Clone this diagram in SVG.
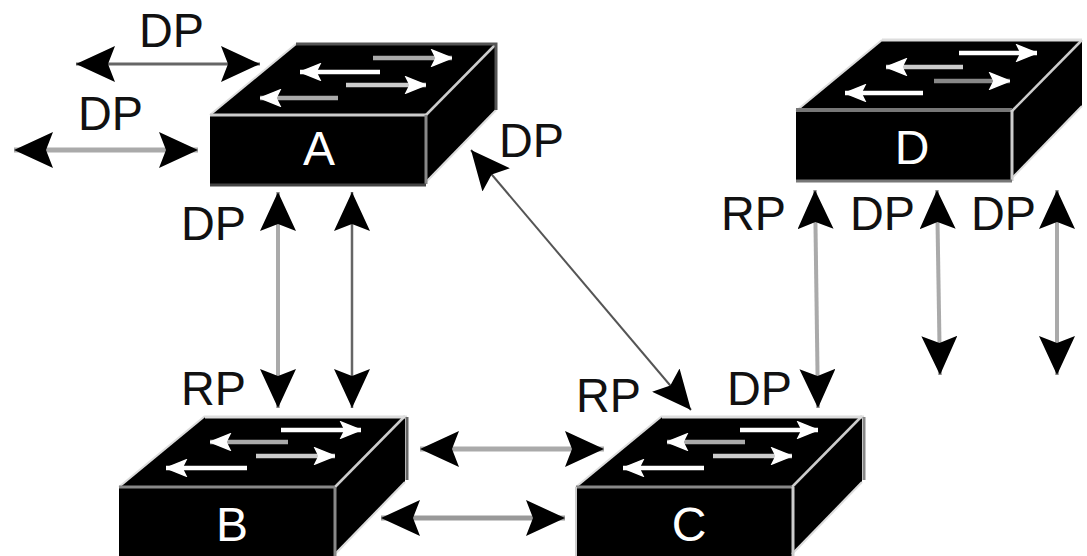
<svg xmlns="http://www.w3.org/2000/svg" width="1087" height="556" viewBox="0 0 1087 556">
<style>
text{font-family:"Liberation Sans",Arial,sans-serif;font-size:48px;fill:#111}
text.n{fill:#fff;text-anchor:middle;font-size:48px}
.c{fill:none;marker-start:url(#h);marker-end:url(#h)}
.i{fill:none;stroke-width:4.5;marker-end:url(#w)}
</style>
<defs>
<marker id="h" markerUnits="userSpaceOnUse" viewBox="0 -18 40 36" refX="40" refY="0" markerWidth="40" markerHeight="36" orient="auto-start-reverse"><path d="M40,0L1,-18L8,0L1,18Z" fill="#000"/></marker>
<marker id="w" markerUnits="userSpaceOnUse" viewBox="0 -9 24 18" refX="24" refY="0" markerWidth="24" markerHeight="18" orient="auto"><path d="M24,0L4,-8L8,0L4,8Z" fill="#fff" stroke="#fff" stroke-width="1.5"/></marker>
<g id="body">
<path d="M0,0L86,-71H286L286,-5L216,67V0Z" fill="#000"/>
<rect x="0" y="0" width="216" height="71" fill="#000"/>
<path d="M0,0L86,-71" stroke="#ddd" stroke-width="2" fill="none"/>
<path d="M216,0L286,-71" stroke="#ccc" stroke-width="2.5" fill="none"/>
<path d="M286,-5L216,67" stroke="#ddd" stroke-width="2" fill="none"/>
</g>
</defs>
<g id="connectors">
<path class="c" d="M76,64H260" stroke="#666" stroke-width="3"/>
<path class="c" d="M14,150H198" stroke="#aaa" stroke-width="5"/>
<path class="c" d="M278,192V408" stroke="#aaa" stroke-width="4"/>
<path class="c" d="M352,192V408" stroke="#666" stroke-width="2.5"/>
<path class="c" d="M471,150L691,410" stroke="#555" stroke-width="2"/>
<path class="c" d="M420,449H604" stroke="#aaa" stroke-width="5"/>
<path class="c" d="M381,518H565" stroke="#999" stroke-width="5"/>
<path class="c" d="M815,190L818,408" stroke="#aaa" stroke-width="4"/>
<path class="c" d="M937,190L940,375" stroke="#aaa" stroke-width="4"/>
<path class="c" d="M1057,190V375" stroke="#aaa" stroke-width="4"/>
</g>
<g id="node-a">
<use href="#body" x="210" y="115"/>
<path d="M296,44H496V110" fill="none" stroke="#555" stroke-width="3"/>
<path d="M210,115H426" stroke="#ccc" stroke-width="3" fill="none"/>
<path d="M426,115V184" stroke="#888" stroke-width="3" fill="none"/>
<path d="M210,185H426" stroke="#444" stroke-width="3" fill="none"/>
<path class="i" d="M373,58H452" stroke="#aaa"/>
<path class="i" d="M380,72H300" stroke="#fff"/>
<path class="i" d="M346,85H426" stroke="#ccc"/>
<path class="i" d="M338,98H260" stroke="#aaa"/>
<text class="n" x="319" y="165">A</text>
</g>
<g id="node-b">
<use href="#body" x="119" y="487"/>
<path d="M205,417H407" fill="none" stroke="#ddd" stroke-width="3"/>
<path d="M407,417V480" fill="none" stroke="#666" stroke-width="3"/>
<path d="M119,487H335" stroke="#888" stroke-width="3" fill="none"/>
<path d="M335,487V556" stroke="#888" stroke-width="3" fill="none"/>
<path class="i" d="M281,430H361" stroke="#fff"/>
<path class="i" d="M288,442H210" stroke="#aaa"/>
<path class="i" d="M256,456H335" stroke="#ccc"/>
<path class="i" d="M247,468H166" stroke="#fff"/>
<text class="n" x="232" y="541">B</text>
</g>
<g id="node-c">
<use href="#body" x="576" y="487"/>
<path d="M662,417H864" fill="none" stroke="#ddd" stroke-width="3"/>
<path d="M864,417V480" fill="none" stroke="#888" stroke-width="3"/>
<path d="M576,487H792" stroke="#888" stroke-width="3" fill="none"/>
<path d="M576,487V556" stroke="#ccc" stroke-width="2" fill="none"/>
<path d="M793,487V556" stroke="#ccc" stroke-width="3" fill="none"/>
<path class="i" d="M740,430H818" stroke="#fff"/>
<path class="i" d="M745,442H667" stroke="#aaa"/>
<path class="i" d="M713,456H792" stroke="#ccc"/>
<path class="i" d="M704,468H623" stroke="#fff"/>
<text class="n" x="689" y="541">C</text>
</g>
<g id="node-d">
<use href="#body" x="796" y="111"/>
<path d="M882,40H1082" fill="none" stroke="#ddd" stroke-width="3"/>
<path d="M796,110H1012" stroke="#777" stroke-width="4" fill="none"/>
<path d="M1012,110V181" stroke="#ccc" stroke-width="3" fill="none"/>
<path d="M796,181H1012" stroke="#777" stroke-width="3" fill="none"/>
<path class="i" d="M959,53H1037" stroke="#fff"/>
<path class="i" d="M963,67H886" stroke="#ccc"/>
<path class="i" d="M934,81H1010" stroke="#888"/>
<path class="i" d="M923,93H845" stroke="#fff"/>
<text class="n" x="912" y="164">D</text>
</g>
<g id="labels">
<text x="139" y="47" textLength="65" lengthAdjust="spacingAndGlyphs">DP</text>
<text x="78" y="130" textLength="65" lengthAdjust="spacingAndGlyphs">DP</text>
<text x="181" y="240" textLength="65" lengthAdjust="spacingAndGlyphs">DP</text>
<text x="499" y="157" textLength="65" lengthAdjust="spacingAndGlyphs">DP</text>
<text x="181" y="405" textLength="65" lengthAdjust="spacingAndGlyphs">RP</text>
<text x="576" y="412" textLength="65" lengthAdjust="spacingAndGlyphs">RP</text>
<text x="727" y="405" textLength="65" lengthAdjust="spacingAndGlyphs">DP</text>
<text x="721" y="230" textLength="65" lengthAdjust="spacingAndGlyphs">RP</text>
<text x="850" y="230" textLength="65" lengthAdjust="spacingAndGlyphs">DP</text>
<text x="971" y="230" textLength="65" lengthAdjust="spacingAndGlyphs">DP</text>
</g>
</svg>
